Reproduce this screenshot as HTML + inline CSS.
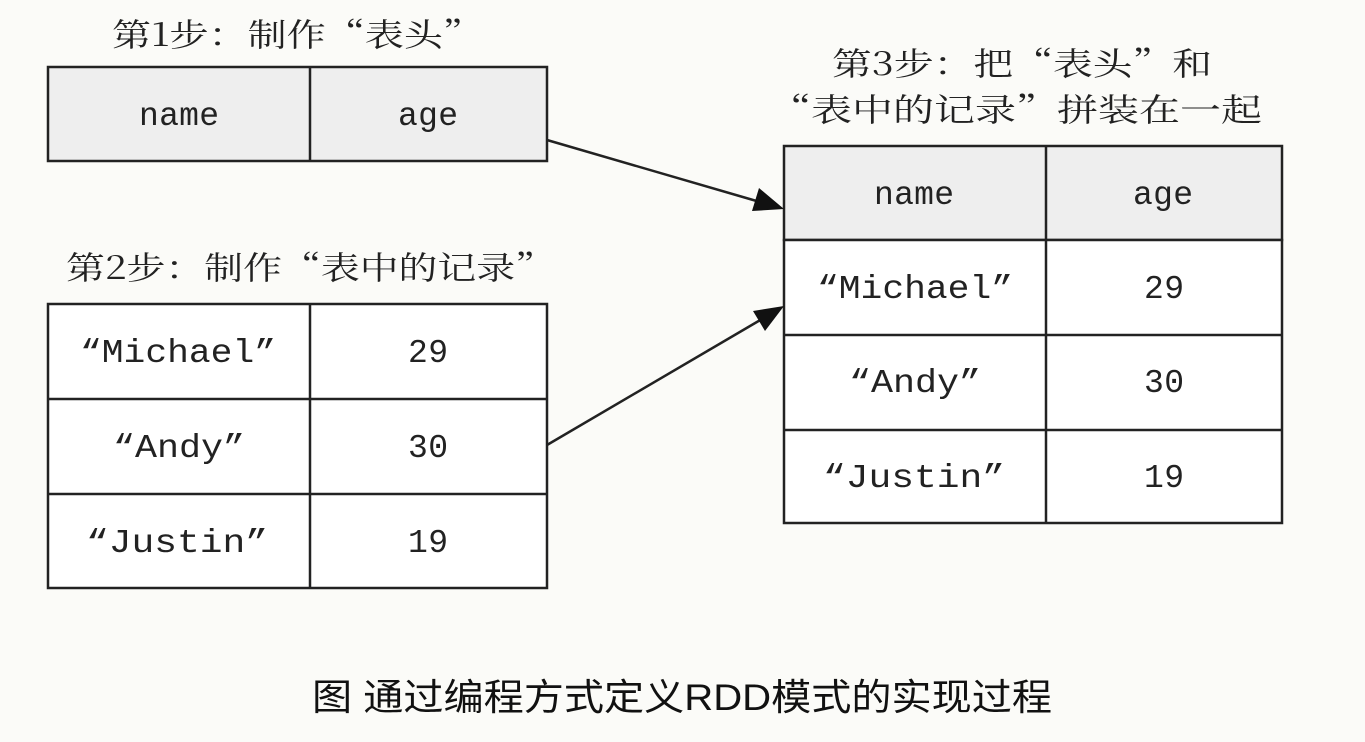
<!DOCTYPE html>
<html><head><meta charset="utf-8"><style>
html,body{margin:0;padding:0;background:#fbfbf8;}
svg{display:block}
.t{font-family:"Noto Serif CJK SC","Liberation Serif",serif;font-size:32px;fill:#222;}
.c{font-family:"Liberation Mono","Noto Serif CJK SC",monospace;font-size:33px;fill:#222;}
.cap{font-family:"Liberation Sans","Noto Sans CJK SC",sans-serif;font-size:37px;fill:#111;}
</style></head><body>
<svg width="1365" height="742" viewBox="0 0 1365 742" xmlns="http://www.w3.org/2000/svg">
<rect width="1365" height="742" fill="#fbfbf8"/>
<g stroke="#222" stroke-width="2.5" fill="none">
<rect x="48" y="67" width="499" height="94" fill="#eeeeee"/>
<line x1="310" y1="67" x2="310" y2="161"/>
<rect x="48" y="304" width="499" height="284" fill="#fff"/>
<line x1="310" y1="304" x2="310" y2="588"/>
<line x1="48" y1="399" x2="547" y2="399"/>
<line x1="48" y1="494" x2="547" y2="494"/>
<rect x="784" y="146" width="498" height="94" fill="#eeeeee"/>
<rect x="784" y="240" width="498" height="283" fill="#fff"/>
<line x1="1046" y1="146" x2="1046" y2="523"/>
<line x1="784" y1="335" x2="1282" y2="335"/>
<line x1="784" y1="430" x2="1282" y2="430"/>
<line x1="547" y1="140" x2="760" y2="202"/>
<line x1="547" y1="445" x2="762" y2="319"/>
</g>
<polygon points="784,209 752,211 759,188" fill="#111"/>
<polygon points="784,306 765,331 753,311" fill="#111"/>
<text class="t" x="112" y="46" textLength="370" lengthAdjust="spacingAndGlyphs">第1步：制作“表头”</text>
<text class="t" x="66" y="279" textLength="488" lengthAdjust="spacingAndGlyphs">第2步：制作“表中的记录”</text>
<text class="t" x="832" y="75" textLength="380" lengthAdjust="spacingAndGlyphs">第3步：把“表头”和</text>
<text class="t" x="770" y="121" textLength="492" lengthAdjust="spacingAndGlyphs">“表中的记录”拼装在一起</text>
<g class="c">
<text x="139" y="125" textLength="80">name</text><text x="398" y="125" textLength="60">age</text>
<text x="80" y="362" textLength="196" lengthAdjust="spacingAndGlyphs">“Michael”</text><text x="408" y="362" textLength="40">29</text>
<text x="113" y="457" textLength="132" lengthAdjust="spacingAndGlyphs">“Andy”</text><text x="408" y="457" textLength="40">30</text>
<text x="86" y="552" textLength="182" lengthAdjust="spacingAndGlyphs">“Justin”</text><text x="408" y="552" textLength="40">19</text>
<text x="874" y="204" textLength="80">name</text><text x="1133" y="204" textLength="60">age</text>
<text x="817" y="298" textLength="196" lengthAdjust="spacingAndGlyphs">“Michael”</text><text x="1144" y="298" textLength="40">29</text>
<text x="849" y="392" textLength="132" lengthAdjust="spacingAndGlyphs">“Andy”</text><text x="1144" y="392" textLength="40">30</text>
<text x="823" y="487" textLength="182" lengthAdjust="spacingAndGlyphs">“Justin”</text><text x="1144" y="487" textLength="40">19</text>
</g>
<text class="cap" x="312" y="710" textLength="740" lengthAdjust="spacingAndGlyphs">图 通过编程方式定义RDD模式的实现过程</text>
</svg>
</body></html>
